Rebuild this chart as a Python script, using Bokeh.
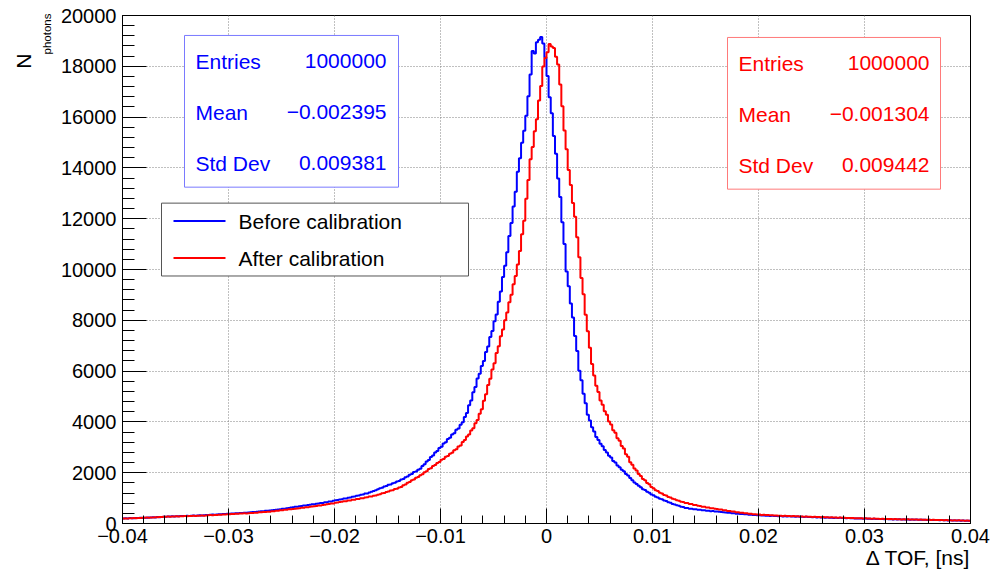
import numpy as np
from bokeh.plotting import figure
from bokeh.models import FixedTicker, CustomJSTickFormatter, Label, Range1d, Title
from bokeh.embed import file_html
from bokeh.resources import INLINE

# ---------------- data ----------------
X_MIN, X_MAX, N_BINS = -0.04, 0.04, 400
Y_MIN, Y_MAX = 0, 20000

before_counts = [
    198, 207, 201, 213, 209, 204, 218, 214, 225, 219, 231, 227, 238, 233, 244, 240, 251, 247, 259, 262,
    268, 275, 271, 283, 279, 288, 284, 293, 297, 291, 303, 299, 308, 314, 309, 318, 322, 316, 329, 333,
    338, 346, 351, 347, 358, 364, 360, 371, 378, 385, 381, 392, 398, 404, 400, 411, 418, 425, 421, 433,
    441, 452, 454, 467, 468, 482, 483, 498, 500, 515, 517, 535, 538, 556, 560, 578, 583, 602, 608, 628,
    638, 655, 660, 679, 686, 705, 709, 730, 735, 756, 760, 781, 786, 808, 812, 836, 841, 864, 869, 894,
    912, 921, 946, 953, 981, 987, 1016, 1022, 1054, 1060, 1093, 1099, 1135, 1141, 1178, 1184, 1220, 1247, 1278, 1312,
    1348, 1392, 1412, 1458, 1476, 1522, 1540, 1589, 1604, 1652, 1672, 1729, 1756, 1820, 1851, 1921, 1949, 2025, 2047, 2118,
    2160, 2262, 2331, 2440, 2503, 2618, 2675, 2800, 2850, 2975, 3022, 3152, 3198, 3330, 3378, 3505, 3552, 3688, 3742, 3890,
    3985, 4190, 4350, 4660, 4840, 5170, 5370, 5710, 5900, 6200, 6400, 6750, 6970, 7340, 7580, 7960, 8230, 8730, 9130, 9700,
    10150, 10680, 11320, 11830, 12480, 13060, 13850, 14380, 14990, 15460, 16050, 16820, 17680, 18600, 18500, 18950, 19050, 19150, 18900, 18350,
    17620, 16780, 16150, 15260, 14560, 13580, 12850, 11860, 11000, 9920, 9340, 8660, 8110, 7380, 6790, 6010, 5640, 5110, 4730, 4280,
    4060, 3790, 3620, 3410, 3290, 3140, 3040, 2890, 2800, 2670, 2595, 2465, 2400, 2285, 2215, 2120, 2055, 1945, 1890, 1790,
    1705, 1612, 1560, 1482, 1430, 1352, 1318, 1250, 1210, 1142, 1108, 1052, 1028, 972, 955, 903, 886, 834, 815, 772,
    752, 714, 695, 659, 646, 613, 610, 584, 583, 560, 561, 539, 541, 519, 521, 502, 504, 486, 489, 472,
    473, 458, 455, 440, 437, 421, 420, 404, 403, 388, 388, 374, 374, 360, 360, 346, 347, 333, 334, 321,
    322, 313, 316, 305, 309, 298, 303, 292, 297, 286, 292, 280, 287, 276, 283, 271, 279, 266, 273, 263,
    268, 258, 262, 252, 257, 247, 252, 241, 246, 235, 241, 230, 235, 225, 231, 221, 227, 217, 223, 214,
    218, 209, 212, 203, 206, 197, 201, 192, 197, 188, 193, 184, 189, 180, 185, 176, 181, 173, 178, 170,
    174, 166, 170, 162, 167, 159, 164, 156, 161, 153, 158, 151, 156, 148, 154, 146, 151, 143, 149, 141,
    145, 138, 142, 134, 139, 130, 135, 126, 131, 122, 127, 119, 123, 115, 120, 111, 116, 108, 112, 104,
]

after_counts = [
    192, 201, 197, 207, 204, 213, 210, 220, 217, 227, 224, 234, 231, 241, 238, 248, 246, 256, 253, 264,
    268, 274, 270, 278, 275, 283, 279, 287, 284, 292, 288, 296, 293, 301, 298, 306, 303, 311, 308, 318,
    322, 330, 326, 338, 334, 346, 343, 355, 352, 364, 361, 373, 370, 382, 379, 391, 389, 400, 398, 408,
    414, 416, 426, 427, 438, 439, 451, 452, 465, 466, 481, 484, 499, 503, 519, 522, 538, 543, 558, 559,
    573, 578, 595, 600, 617, 622, 640, 644, 662, 665, 684, 688, 708, 712, 733, 737, 759, 763, 785, 790,
    820, 826, 847, 853, 874, 880, 902, 908, 931, 936, 961, 967, 993, 999, 1026, 1031, 1060, 1065, 1096, 1104,
    1135, 1150, 1190, 1203, 1244, 1257, 1298, 1310, 1354, 1367, 1417, 1441, 1504, 1533, 1600, 1630, 1701, 1728, 1802, 1830,
    1895, 1942, 2022, 2061, 2143, 2180, 2263, 2300, 2384, 2420, 2505, 2538, 2625, 2658, 2750, 2788, 2886, 2925, 3030, 3075,
    3210, 3290, 3425, 3505, 3660, 3750, 3945, 4070, 4320, 4500, 4830, 5090, 5450, 5700, 6060, 6310, 6710, 6980, 7370, 7640,
    8000, 8310, 8710, 9010, 9420, 9740, 10200, 10730, 11390, 11920, 12790, 13520, 14340, 14820, 15440, 15920, 16650, 17220, 17990, 18330,
    18550, 18880, 18780, 18720, 18380, 18070, 17280, 16430, 15470, 14730, 13920, 13330, 12620, 12080, 11270, 10480, 9670, 9030, 8220, 7570,
    6920, 6280, 5830, 5420, 5180, 4840, 4680, 4420, 4280, 4020, 3900, 3670, 3570, 3360, 3260, 3050, 2950, 2730, 2630, 2410,
    2310, 2165, 2085, 1945, 1875, 1755, 1705, 1595, 1545, 1440, 1392, 1310, 1282, 1210, 1186, 1120, 1101, 1041, 1026, 972,
    955, 913, 897, 855, 843, 808, 803, 768, 764, 731, 727, 695, 692, 663, 662, 633, 633, 605, 605, 579,
    574, 552, 547, 523, 519, 496, 493, 471, 469, 447, 446, 425, 424, 404, 404, 385, 386, 367, 368, 350,
    351, 339, 342, 331, 334, 323, 326, 315, 318, 307, 310, 300, 304, 294, 298, 288, 292, 282, 286, 278,
    279, 270, 274, 264, 268, 259, 263, 253, 258, 248, 253, 243, 248, 238, 243, 233, 238, 229, 233, 224,
    226, 217, 221, 212, 216, 207, 211, 202, 207, 198, 203, 194, 199, 190, 195, 186, 191, 182, 187, 178,
    182, 174, 178, 170, 174, 166, 170, 162, 166, 159, 163, 156, 160, 153, 157, 150, 154, 147, 151, 145,
    148, 141, 145, 137, 141, 133, 138, 130, 134, 126, 131, 123, 127, 119, 124, 116, 121, 113, 117, 109,
]

series_names = ["Before calibration", "After calibration"]
series_colors = ["#0000ff", "#ff0000"]
stats_before = [("Entries", "1000000"), ("Mean", "\u22120.002395"), ("Std Dev", "0.009381")]
stats_after = [("Entries", "1000000"), ("Mean", "\u22120.001304"), ("Std Dev", "0.009442")]
x_major_ticks = [-0.04, -0.03, -0.02, -0.01, 0.0, 0.01, 0.02, 0.03, 0.04]
y_major_ticks = [0, 2000, 4000, 6000, 8000, 10000, 12000, 14000, 16000, 18000, 20000]
x_title = "\u0394 TOF, [ns]"
y_title_main, y_title_sub = "N", "photons"

# ---------------- layout helpers (page pixels -> data) ----------------
W, H = 1000, 570
FL, FR, FT, FB = 122, 970, 15, 524   # frame edges in page pixels


def dx(px):
    return X_MIN + (px - FL) / (FR - FL) * (X_MAX - X_MIN)


def dy(py):
    return Y_MIN + (FB - py) / (FB - FT) * (Y_MAX - Y_MIN)


FONT = "Liberation Sans"

p = figure(width=W, height=H, output_backend="svg", toolbar_location=None,
           x_range=Range1d(X_MIN, X_MAX), y_range=Range1d(Y_MIN, Y_MAX),
           min_border_left=FL, min_border_right=W - FR,
           min_border_top=FT, min_border_bottom=H - FB)
p.background_fill_color = "white"
p.border_fill_color = "white"
p.outline_line_color = "black"
p.outline_line_width = 1

# axes
x_minor = [round(X_MIN + 0.002 * k, 4) for k in range(41)]
y_minor = [400 * k for k in range(51)]
p.xaxis.ticker = FixedTicker(ticks=x_major_ticks, minor_ticks=x_minor)
p.yaxis.ticker = FixedTicker(ticks=y_major_ticks, minor_ticks=y_minor)
p.xaxis.formatter = CustomJSTickFormatter(code="""
const v = Math.round(tick * 100);
if (v === 0) return '0';
return (v < 0 ? '\u2212' : '') + (Math.abs(v) / 100).toFixed(2);
""")
for ax, tin, tmin in ((p.xaxis, 15, 8), (p.yaxis, 24, 12)):
    ax.major_tick_in = tin
    ax.major_tick_out = 0
    ax.minor_tick_in = tmin
    ax.minor_tick_out = 0
    ax.axis_line_color = "black"
    ax.major_tick_line_color = "black"
    ax.minor_tick_line_color = "black"
    ax.major_label_text_font = FONT
    ax.major_label_text_font_size = "20px"
    ax.major_label_text_color = "black"
p.xaxis.major_label_standoff = 5
p.yaxis.major_label_standoff = 6

for g in (p.xgrid, p.ygrid):
    g.grid_line_color = "#808080"
    g.grid_line_dash = "1 2"
    g.grid_line_width = 1
p.xgrid.ticker = FixedTicker(ticks=x_major_ticks)
p.ygrid.ticker = FixedTicker(ticks=y_major_ticks)

# axis titles (as side-panel titles so they are not clipped by the frame)
p.add_layout(Title(text=x_title, align="right", vertical_align="top", text_font=FONT,
                   text_font_size="21px", text_font_style="normal", text_color="black",
                   standoff=0, offset=0), "below")
p.add_layout(Title(text=y_title_sub, align="right", text_font=FONT, text_font_size="11.5px",
                   text_font_style="normal", text_color="black", standoff=9, offset=-2), "left")
p.add_layout(Title(text=y_title_main, align="right", text_font=FONT, text_font_size="21px",
                   text_font_style="normal", text_color="black", standoff=0, offset=38), "left")

# histograms
edges = np.linspace(X_MIN, X_MAX, N_BINS + 1)
for counts, col in zip((before_counts, after_counts), series_colors):
    yy = list(counts) + [counts[-1]]
    p.step(x=edges, y=yy, mode="after", line_color=col, line_width=2)


# stat boxes
def stat_box(left, right, top, bottom, rows, color, border, row_y, xl, xr):
    p.quad(left=dx(left), right=dx(right), top=dy(top), bottom=dy(bottom),
           fill_color="white", line_color=border, line_width=1)
    for (name, val), ry in zip(rows, row_y):
        p.add_layout(Label(x=dx(xl), y=dy(ry), text=name, text_color=color,
                           text_font=FONT, text_font_size="21px",
                           text_baseline="middle", text_align="left"))
        p.add_layout(Label(x=dx(xr), y=dy(ry), text=val, text_color=color,
                           text_font=FONT, text_font_size="21px",
                           text_baseline="middle", text_align="right"))


stat_box(184, 398, 35, 187, stats_before, series_colors[0], "#7a7aff", (61, 112, 163), 195, 386)
stat_box(727, 940, 37, 189, stats_after, series_colors[1], "#ff7a7a", (63, 114, 165), 738, 929)

# legend
p.quad(left=dx(161), right=dx(468), top=dy(203), bottom=dy(276),
       fill_color="white", line_color="#555555", line_width=1)
for name, col, ly in zip(series_names, series_colors, (221, 258)):
    p.line(x=[dx(173), dx(225)], y=[dy(ly), dy(ly)], line_color=col, line_width=2)
    p.add_layout(Label(x=dx(238), y=dy(ly), text=name, text_color="black",
                       text_font=FONT, text_font_size="21px",
                       text_baseline="middle", text_align="left"))

open("out.html", "w").write(file_html(p, INLINE))
